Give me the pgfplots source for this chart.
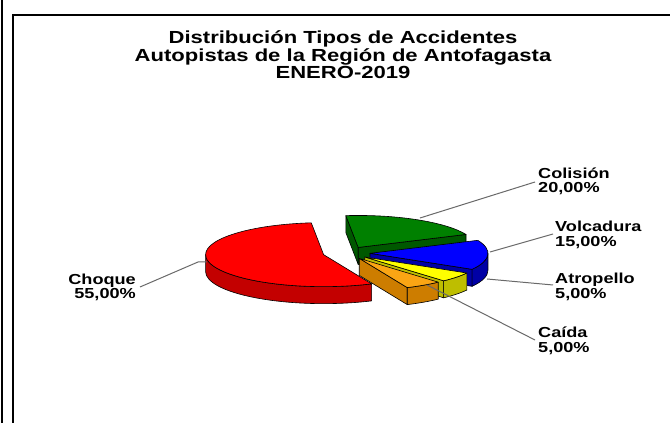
\documentclass[border=0pt]{standalone}
\usepackage{graphicx}
\usepackage{pgfplots}
\pgfplotsset{compat=1.18}
\usepackage{pgfplotstable}
\usepackage{fontspec}
\setmainfont{Liberation Sans}

\definecolor{cGreen}{RGB}{0,128,0}
\definecolor{cGreenD}{RGB}{0,88,0}
\definecolor{cBlue}{RGB}{0,0,255}
\definecolor{cBlueD}{RGB}{0,0,165}
\definecolor{cYellow}{RGB}{255,255,0}
\definecolor{cYellowD}{RGB}{190,190,0}
\definecolor{cOrange}{RGB}{250,165,20}
\definecolor{cOrangeD}{RGB}{205,125,0}
\definecolor{cRed}{RGB}{255,0,0}
\definecolor{cRedD}{RGB}{195,0,0}
\definecolor{leader}{RGB}{105,105,105}

% Accident types, percent, in clockwise order from the top
\pgfplotstableread{
label value
Colision 20
Volcadura 15
Atropello 5
Caida 5
Choque 55
}\piedata

\newcommand{\lab}[1]{\scalebox{1.25}[1]{\fontsize{14.5}{14.5}\selectfont\bfseries #1}}
\newcommand{\ttl}[1]{\scalebox{1.26}[1]{\fontsize{17.5}{17.5}\selectfont\bfseries #1}}

\def\startang{96}
\def\Cx{346.4}
\def\Cy{170}
\def\Rx{118}
\def\Ry{32}
\def\hh{17}
\def\ex{0.2}

\begin{document}
\begin{tikzpicture}
\useasboundingbox (0,0) rectangle (670pt,423pt);
\fill[white] (0,0) rectangle (670pt,423pt);

% cumulative angles from the data
\def\cum{0}
\pgfplotsforeachungrouped \i in {0,1,2,3,4} {%
  \pgfplotstablegetelem{\i}{value}\of\piedata
  \let\val\pgfplotsretval
  \pgfmathsetmacro{\hiA}{\startang-3.6*\cum}%
  \pgfmathsetmacro{\cum}{\cum+\val}%
  \pgfmathsetmacro{\loA}{\startang-3.6*\cum}%
  \expandafter\xdef\csname angLo\i\endcsname{\loA}%
  \expandafter\xdef\csname angHi\i\endcsname{\hiA}%
}

\begin{axis}[x=1pt,y=1pt,xmin=0,xmax=670,ymin=0,ymax=423,
  hide axis,scale only axis,clip=false,anchor=origin,at={(0,0)}]
\pgfplotsextra{
 \foreach \i/\tc/\sc in {0/cGreen/cGreenD,1/cBlue/cBlueD,4/cRed/cRedD,2/cYellow/cYellowD,3/cOrange/cOrangeD}{
   \pgfmathsetmacro{\a}{\csname angLo\i\endcsname}
   \pgfmathsetmacro{\b}{\csname angHi\i\endcsname}
   \pgfmathsetmacro{\m}{(\a+\b)/2}
   \pgfmathsetmacro{\px}{\Cx+\ex*\Rx*cos(\m)}
   \pgfmathsetmacro{\py}{\Cy+\ex*\Ry*sin(\m)}
   \pgfmathsetmacro{\ax}{\Rx*cos(\a)}
   \pgfmathsetmacro{\ay}{\Ry*sin(\a)}
   \pgfmathsetmacro{\bx}{\Rx*cos(\b)}
   \pgfmathsetmacro{\by}{\Ry*sin(\b)}
   \pgfmathtruncatemacro{\va}{cos(\a)>0}
   \pgfmathtruncatemacro{\vb}{cos(\b)<0}
   \pgfmathsetmacro{\lo}{max(\a,-180)}
   \pgfmathsetmacro{\hi}{min(\b,0)}
   \pgfmathtruncatemacro{\vband}{\lo<\hi}
   \pgfmathsetmacro{\lox}{\Rx*cos(\lo)}
   \pgfmathsetmacro{\loy}{\Ry*sin(\lo)}
   \ifnum\vb=1
     \filldraw[fill=\sc,draw=black,line width=0.6pt,line join=round]
       (axis cs:\px,\py) -- ++(\bx pt,\by pt) -- ++(0,-\hh pt) -- ++(-\bx pt,-\by pt) -- cycle;
   \fi
   \ifnum\va=1
     \filldraw[fill=\sc,draw=black,line width=0.6pt,line join=round]
       (axis cs:\px,\py) -- ++(\ax pt,\ay pt) -- ++(0,-\hh pt) -- ++(-\ax pt,-\ay pt) -- cycle;
   \fi
   \ifnum\vband=1
     \filldraw[fill=\sc,draw=black,line width=0.6pt,line join=round]
       (axis cs:\px,\py) ++(\lox pt,\loy pt)
       arc[start angle=\lo,end angle=\hi,x radius=\Rx pt,y radius=\Ry pt]
       -- ++(0,-\hh pt)
       arc[start angle=\hi,end angle=\lo,x radius=\Rx pt,y radius=\Ry pt] -- cycle;
   \fi
   \filldraw[fill=\tc,draw=black,line width=0.6pt,line join=round]
     (axis cs:\px,\py) -- ++(\ax pt,\ay pt)
     arc[start angle=\a,end angle=\b,x radius=\Rx pt,y radius=\Ry pt] -- cycle;
 }
}

% leader lines
\draw[leader,line width=1pt] (axis cs:420,205) -- (axis cs:535,241);
\draw[leader,line width=1pt] (axis cs:490,171) -- (axis cs:553,189);
\draw[leader,line width=1pt] (axis cs:487,144) -- (axis cs:553,138);
\draw[leader,line width=1pt] (axis cs:427,138) -- (axis cs:535,83);
\draw[leader,line width=1pt] (axis cs:207,161) -- (axis cs:198,161) -- (axis cs:140,136);

% labels
\node[anchor=base west,inner sep=0] at (axis cs:538,244.5) {\lab{Colisión}};
\node[anchor=base west,inner sep=0] at (axis cs:538,230.5) {\lab{20,00\%}};
\node[anchor=base west,inner sep=0] at (axis cs:555,191.3) {\lab{Volcadura}};
\node[anchor=base west,inner sep=0] at (axis cs:555,176.3) {\lab{15,00\%}};
\node[anchor=base west,inner sep=0] at (axis cs:555,139.7) {\lab{Atropello}};
\node[anchor=base west,inner sep=0] at (axis cs:555,124) {\lab{5,00\%}};
\node[anchor=base west,inner sep=0] at (axis cs:538,85.7) {\lab{Caída}};
\node[anchor=base west,inner sep=0] at (axis cs:538,70.3) {\lab{5,00\%}};
\node[anchor=base east,inner sep=0] at (axis cs:136,138) {\lab{Choque}};
\node[anchor=base east,inner sep=0] at (axis cs:136,124.7) {\lab{55,00\%}};

% title
\node[anchor=base,inner sep=0] at (axis cs:343,379) {\ttl{Distribución Tipos de Accidentes}};
\node[anchor=base,inner sep=0] at (axis cs:343,361.5) {\ttl{Autopistas de la Región de Antofagasta}};
\node[anchor=base,inner sep=0] at (axis cs:343,344) {\ttl{ENERO-2019}};
\end{axis}

% frame
\draw[line width=2pt] (1.5pt,0) -- (1.5pt,423pt);
\draw[line width=2pt] (13pt,0) -- (13pt,408pt) -- (670pt,408pt);
\end{tikzpicture}
\end{document}
